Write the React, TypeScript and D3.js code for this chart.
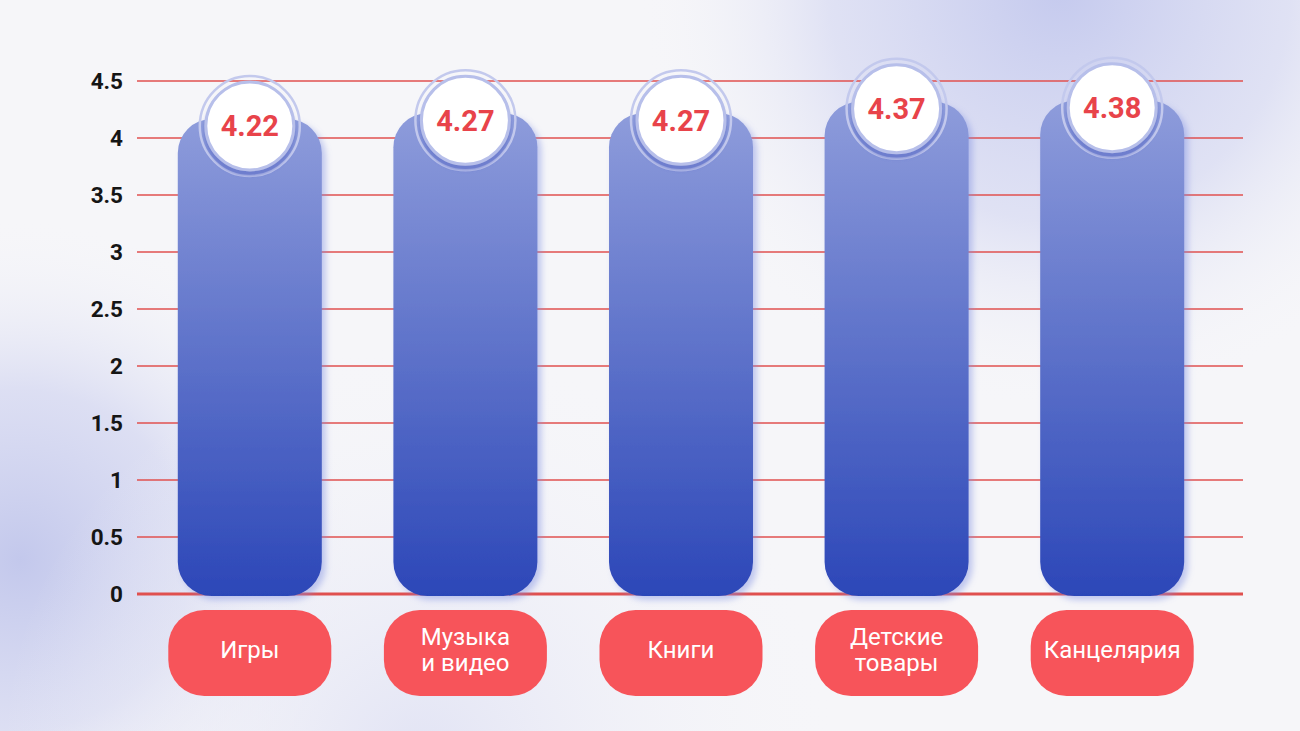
import React from "react";
import * as d3 from "d3";

const categories = ["Игры", "Музыка\nи видео", "Книги", "Детские\nтовары", "Канцелярия"];
const ratings = [4.22, 4.27, 4.27, 4.37, 4.38];
const yTicks = [0, 0.5, 1, 1.5, 2, 2.5, 3, 3.5, 4, 4.5];

const W = 1300;
const H = 731;

const App: React.FC = () => {
  const y = d3.scaleLinear().domain([0, 4.5]).range([594, 81]);
  const x = d3
    .scaleBand<string>()
    .domain(categories)
    .range([142, 1220])
    .paddingInner(0.332)
    .paddingOuter(0.166);

  const bw = x.bandwidth();
  const gridX0 = 137;
  const gridX1 = 1243;

  // rounded bar path (all corners rounded)
  const barPath = (x0: number, top: number, bottom: number, r: number) => {
    const p = d3.path();
    p.moveTo(x0 + r, top);
    p.lineTo(x0 + bw - r, top);
    p.arcTo(x0 + bw, top, x0 + bw, top + r, r);
    p.lineTo(x0 + bw, bottom - r);
    p.arcTo(x0 + bw, bottom, x0 + bw - r, bottom, r);
    p.lineTo(x0 + r, bottom);
    p.arcTo(x0, bottom, x0, bottom - r, r);
    p.lineTo(x0, top + r);
    p.arcTo(x0, top, x0 + r, top, r);
    p.closePath();
    return p.toString();
  };

  return (
    <div style={{ position: "fixed", left: 0, top: 0, width: W, height: H }}>
      <svg width={W} height={H} style={{ display: "block" }}>
        <defs>
          <linearGradient id="barGrad" x1="0" y1="0" x2="0" y2="1">
            <stop offset="0%" stopColor="#8e9cdb" />
            <stop offset="100%" stopColor="#2c47b8" />
          </linearGradient>
          <radialGradient id="blobTR" cx="1060" cy="-10" r="420" gradientUnits="userSpaceOnUse">
            <stop offset="0%" stopColor="#c5caee" stopOpacity="1" />
            <stop offset="55%" stopColor="#d6d9f2" stopOpacity="0.7" />
            <stop offset="100%" stopColor="#f6f6f9" stopOpacity="0" />
          </radialGradient>
          <radialGradient id="blobBL" cx="20" cy="560" r="340" gradientUnits="userSpaceOnUse">
            <stop offset="0%" stopColor="#c3c8ec" stopOpacity="1" />
            <stop offset="50%" stopColor="#d4d7f1" stopOpacity="0.75" />
            <stop offset="100%" stopColor="#f6f6f9" stopOpacity="0" />
          </radialGradient>
          <radialGradient id="blobB" cx="420" cy="760" r="420" gradientUnits="userSpaceOnUse">
            <stop offset="0%" stopColor="#dfe1f4" stopOpacity="0.9" />
            <stop offset="100%" stopColor="#f6f6f9" stopOpacity="0" />
          </radialGradient>
          <filter id="barShadow" x="-20%" y="-10%" width="140%" height="120%">
            <feDropShadow dx="4" dy="4" stdDeviation="3" floodColor="#7d8be0" floodOpacity="0.45" />
          </filter>
          <filter id="circleShadow" x="-30%" y="-30%" width="160%" height="160%">
            <feDropShadow dx="0" dy="5" stdDeviation="1.5" floodColor="#5b6cc6" floodOpacity="0.55" />
          </filter>
        </defs>

        {/* background */}
        <rect width={W} height={H} fill="#f6f6f9" />
        <rect width={W} height={H} fill="url(#blobTR)" />
        <rect width={W} height={H} fill="url(#blobBL)" />
        <rect width={W} height={H} fill="url(#blobB)" />

        {/* grid lines */}
        {yTicks.map((t) => (
          <line
            key={t}
            x1={gridX0}
            x2={gridX1}
            y1={y(t)}
            y2={y(t)}
            stroke="#e0504f"
            strokeWidth={t === 0 ? 3 : 1.5}
          />
        ))}

        {/* tick labels */}
        {yTicks.map((t) => (
          <text
            key={"l" + t}
            x={123}
            y={y(t)}
            dy="0.35em"
            textAnchor="end"
            fontFamily="Roboto, sans-serif"
            fontWeight={700}
            fontSize={22.5}
            fill="#151515"
          >
            {t}
          </text>
        ))}

        {/* bars */}
        {categories.map((c, i) => {
          const x0 = x(c)!;
          const top = y(ratings[i]) + 6;
          return (
            <path
              key={"b" + c}
              d={barPath(x0, top, y(0) + 2, 34)}
              fill="url(#barGrad)"
              filter="url(#barShadow)"
            />
          );
        })}

        {/* value badges */}
        {categories.map((c, i) => {
          const cx = x(c)! + bw / 2;
          const cy = y(ratings[i]) + 13;
          return (
            <g key={"v" + c}>
              <circle cx={cx} cy={cy} r={50} fill="none" stroke="#c3c9ed" strokeWidth={2.5} />
              <circle cx={cx} cy={cy} r={44} fill="#ffffff" stroke="#b7bfea" strokeWidth={3} filter="url(#circleShadow)" />
              <text
                x={cx}
                y={cy}
                dy="0.36em"
                textAnchor="middle"
                fontFamily="Roboto, sans-serif"
                fontWeight={700}
                fontSize={29}
                fill="#e8434a"
              >
                {ratings[i].toFixed(2)}
              </text>
            </g>
          );
        })}

        {/* category labels */}
        {categories.map((c) => {
          const cx = x(c)! + bw / 2;
          const lw = 163;
          const lh = 86;
          const ly = y(0) + 16;
          const lines = c.split("\n");
          return (
            <g key={"c" + c}>
              <rect x={cx - lw / 2} y={ly} width={lw} height={lh} rx={36} fill="#f7545a" />
              {lines.map((ln, j) => (
                <text
                  key={j}
                  x={cx}
                  y={ly + lh / 2 - 3 + (j - (lines.length - 1) / 2) * 26}
                  dy="0.35em"
                  textAnchor="middle"
                  fontFamily="Roboto, sans-serif"
                  fontSize={24}
                  fill="#ffffff"
                >
                  {ln}
                </text>
              ))}
            </g>
          );
        })}
      </svg>
    </div>
  );
};

export default App;
